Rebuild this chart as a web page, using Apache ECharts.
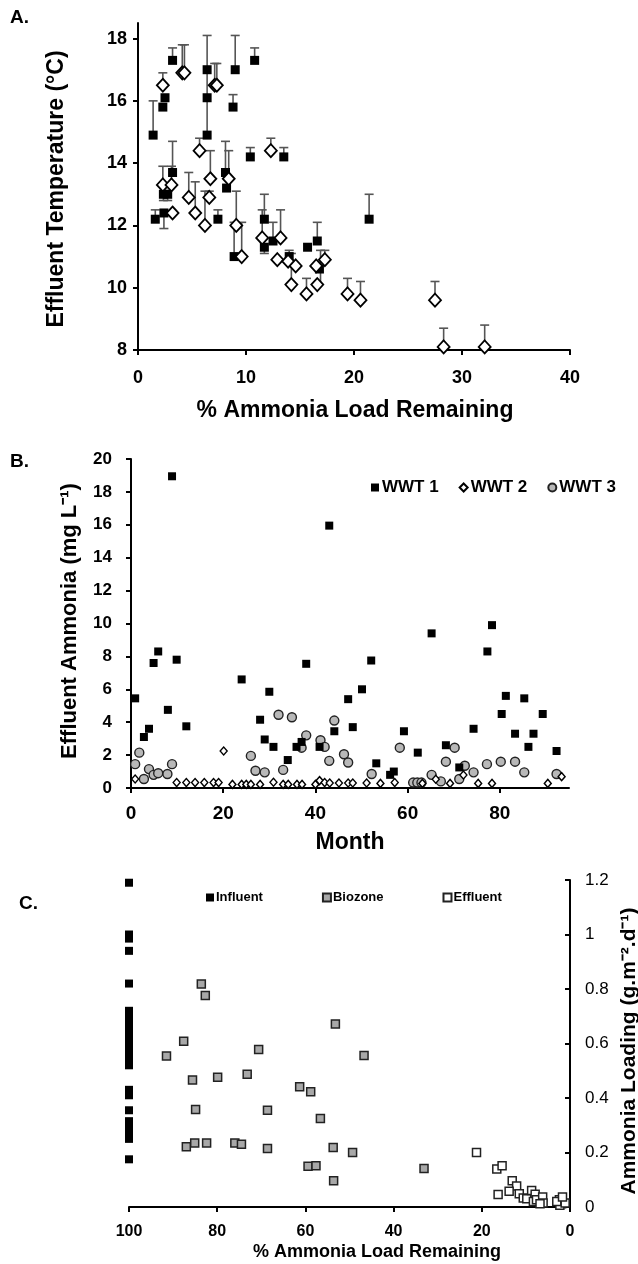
<!DOCTYPE html>
<html><head><meta charset="utf-8">
<script src="https://cdn.jsdelivr.net/npm/echarts@6/dist/echarts.min.js"></script>
<style>html,body{margin:0;padding:0;background:#fff}#c{width:638px;height:1264px}</style>
</head><body><div id="c"></div>
<script>
// ---------- Panel A: effluent temperature vs % ammonia load remaining ----------
const tempFilled = [[1.4,14.9],[1.6,12.2],[2.3,15.8],[2.5,16.1],[3.2,17.3],[2.4,12.4],[2.35,13.0],[2.75,13.0],[3.2,13.7],
  [6.4,17.0],[6.4,16.1],[6.4,14.9],[9.0,17.0],[8.8,15.8],[10.8,17.3],[10.4,14.2],[13.5,14.2],[8.1,13.7],
  [8.2,13.2],[7.4,12.2],[8.9,11.0],[11.7,12.2],[11.7,11.3],[12.5,11.5],[14.0,11.0],[15.7,11.3],
  [16.6,11.5],[16.8,10.6],[21.4,12.2]];
// [x, y, low, high]
const tempFilledErr = [[1.4,14.9,14.9,16.0],[1.6,12.2,12.2,12.5],[3.2,17.3,17.3,17.7],[2.4,12.4,11.9,12.4],
  [2.35,13.0,12.8,13.0],[2.75,13.0,12.8,13.0],[3.2,13.7,13.7,14.7],[6.4,14.9,14.9,18.1],[9.0,17.0,17.0,18.1],
  [8.8,15.8,15.8,16.2],[10.8,17.3,17.3,17.7],[10.4,14.2,14.2,14.5],[13.5,14.2,14.2,14.5],[8.1,13.7,13.7,14.7],
  [7.4,12.2,12.2,12.5],[8.9,11.0,11.0,12.1],[11.7,12.2,12.2,13.0],[11.7,11.3,11.1,11.3],[12.5,11.5,11.5,12.1],
  [14.0,11.0,11.0,11.2],[16.6,11.5,11.5,12.1],[21.4,12.2,12.2,13.0]];
const tempOpen = [[2.3,16.5],[4.1,16.9],[4.3,16.9],[7.1,16.5],[7.3,16.5],[5.7,14.4],[12.3,14.4],[6.7,13.5],[8.4,13.5],
  [2.3,13.3],[3.1,13.3],[4.7,12.9],[6.6,12.9],[3.2,12.4],[5.3,12.4],[6.2,12.0],[9.1,12.0],[9.6,11.0],
  [11.5,11.6],[13.2,11.6],[12.9,10.9],[13.9,10.85],[14.6,10.7],[14.2,10.1],[15.6,9.8],[16.5,10.7],[16.6,10.1],
  [17.3,10.9],[19.4,9.8],[20.6,9.6],[27.5,9.6],[28.3,8.1],[32.1,8.1]];
const tempOpenErr = [[2.3,16.5,16.5,16.9],[4.1,16.9,16.9,17.8],[4.3,16.9,16.9,17.8],[7.1,16.5,16.5,17.2],[7.3,16.5,16.5,17.2],
  [5.7,14.4,14.4,14.8],[12.3,14.4,14.4,14.8],[6.7,13.5,13.5,14.4],[8.4,13.5,13.5,14.4],[2.3,13.3,13.3,13.9],[3.1,13.3,13.3,13.9],
  [4.7,12.9,12.9,13.7],[5.3,12.4,12.4,13.4],[6.2,12.0,12.0,13.1],[6.6,12.9,12.9,13.1],[9.1,12.0,12.0,13.1],[9.6,11.0,11.0,12.1],
  [11.5,11.6,11.6,12.5],[13.2,11.6,11.6,12.5],[14.2,10.1,10.1,11.1],[15.6,9.8,9.8,10.3],[16.9,10.1,10.1,11.2],[17.3,10.9,10.9,11.2],
  [19.4,9.8,9.8,10.3],[20.6,9.6,9.6,10.2],[27.5,9.6,9.6,10.2],[28.3,8.1,8.1,8.7],[32.1,8.1,8.1,8.8]];
const aXTicks = {min:0, max:40, interval:10};
const aYTicks = {min:8, max:18.5, interval:2};

// ---------- Panel B: effluent ammonia by month ----------
const wwt1 = [[0.9,5.45],[2.8,3.1],[3.9,3.6],[4.9,7.6],[5.9,8.3],[8.0,4.75],[8.9,18.95],[9.9,7.8],[12.0,3.75],[24.0,6.6],
  [28.0,4.15],[29.0,2.95],[30.0,5.85],[30.9,2.5],[34.0,1.7],[35.9,2.5],[37.0,2.8],[38.0,7.55],[40.9,2.5],[43.0,15.95],
  [44.1,3.45],[47.1,5.4],[48.1,3.7],[50.1,6.0],[52.1,7.75],[53.2,1.5],[56.2,0.8],[57.0,1.0],[59.2,3.45],[62.2,2.15],
  [65.2,9.4],[68.3,2.6],[71.2,1.25],[74.3,3.6],[77.3,8.3],[78.3,9.9],[80.4,4.5],[81.3,5.6],[83.3,3.3],[85.3,5.45],
  [86.2,2.5],[87.3,3.3],[89.3,4.5],[92.3,2.25],[95.3,3.55]];
const wwt2 = [[0.9,0.55],[9.9,0.33],[12.0,0.33],[13.9,0.33],[15.9,0.33],[17.9,0.33],[19.0,0.33],[20.1,2.25],[22.0,0.22],
  [24.0,0.22],[25.0,0.22],[26.0,0.22],[28.0,0.22],[30.9,0.35],[33.0,0.22],[34.1,0.22],[36.0,0.22],[37.1,0.22],[40.0,0.22],
  [40.9,0.45],[42.0,0.33],[43.1,0.3],[45.1,0.3],[47.1,0.3],[48.1,0.3],[51.1,0.3],[54.1,0.28],[57.2,0.33],[63.2,0.28],
  [66.1,0.53],[69.2,0.28],[72.1,0.79],[75.3,0.28],[78.3,0.28],[90.4,0.28],[93.4,0.69]];
const wwt3 = [[0.9,1.45],[1.8,2.15],[2.8,0.55],[3.9,1.15],[4.9,0.8],[5.9,0.9],[7.9,0.85],[8.9,1.45],[26.0,1.95],[27.0,1.05],
  [29.0,0.95],[32.0,4.45],[33.0,1.1],[34.9,4.3],[37.0,2.45],[38.0,3.2],[41.1,2.9],[42.0,2.5],[43.0,1.65],[44.1,4.1],
  [46.2,2.05],[47.1,1.55],[52.2,0.85],[58.3,2.45],[61.2,0.33],[62.1,0.33],[63.0,0.33],[65.2,0.8],[67.2,0.4],[68.3,1.6],
  [70.2,2.45],[71.2,0.55],[72.4,1.35],[74.3,0.95],[77.2,1.45],[80.2,1.6],[83.3,1.6],[85.3,0.95],[92.3,0.85],[95.3,2.6]];
const bXTicks = {min:0, max:95, interval:20};
const bYTicks = {min:0, max:20, interval:2};

// ---------- Panel C: ammonia loading vs % load remaining ----------
const influentLoad = [1.19,1.0,0.985,0.94,0.82,0.72,0.70,0.68,0.665,0.65,0.63,0.61,0.59,0.57,0.55,0.535,0.52,
  0.43,0.41,0.355,0.315,0.29,0.27,0.25,0.175];
const biozone = [[83.6,0.818],[82.7,0.776],[87.6,0.608],[91.5,0.554],[70.6,0.578],[53.2,0.672],[46.7,0.556],[85.6,0.466],
  [79.9,0.476],[73.2,0.487],[61.3,0.441],[58.8,0.423],[84.9,0.358],[68.6,0.355],[56.6,0.325],[87.0,0.221],[85.1,0.235],
  [82.4,0.235],[76.0,0.235],[74.5,0.23],[68.6,0.215],[53.7,0.218],[49.3,0.2],[59.4,0.15],[57.6,0.151],[53.6,0.096],[33.1,0.141]];
const effluent = [[21.2,0.2],[16.6,0.139],[15.4,0.151],[13.1,0.096],[12.1,0.077],[16.3,0.046],[13.8,0.058],[11.5,0.049],
  [10.6,0.033],[9.8,0.03],[8.7,0.061],[7.9,0.047],[8.3,0.02],[7.6,0.027],[6.2,0.037],[6.1,0.015],[6.8,0.012],[2.4,0.027],
  [1.9,0.012],[2.3,0.006],[1.1,0.015],[3.0,0.02],[1.7,0.037]];
const cXTicks = {min:0, max:100, interval:20};
const cYTicks = {min:0, max:1.2, interval:0.2};

const FONT = "'Liberation Sans', Arial, sans-serif";
const chart = echarts.init(document.getElementById('c'), null, {renderer:'canvas'});

function errRender(params, api){
  const x = api.value(0), y = api.value(1), lo = api.value(2), hi = api.value(3);
  const a = api.coord([x, lo]), b = api.coord([x, hi]);
  const st = {stroke:'#555', lineWidth:1.6, fill:null};
  const ch = [{type:'line', shape:{x1:a[0],y1:a[1],x2:b[0],y2:b[1]}, style:st}];
  const hw = 4.5;
  if (hi > y) ch.push({type:'line', shape:{x1:b[0]-hw,y1:b[1],x2:b[0]+hw,y2:b[1]}, style:st});
  if (lo < y) ch.push({type:'line', shape:{x1:a[0]-hw,y1:a[1],x2:a[0]+hw,y2:a[1]}, style:st});
  return {type:'group', children:ch};
}

const axLine = {show:true, onZero:false, lineStyle:{color:'#000', width:2}};
const tick = {show:true, length:5, lineStyle:{color:'#000', width:2}};
function lbl(size, margin, weight){ return {color:'#000', fontFamily:FONT, fontWeight:weight||'bold', fontSize:size, margin:margin}; }

const option = {
  animation:false,
  backgroundColor:'#fff',
  grid:[
    {left:138, top:23, width:432, height:327},
    {left:131, top:459, width:438, height:329},
    {left:129, top:880, width:441, height:327}
  ],
  xAxis:[
    {gridIndex:0, type:'value', min:aXTicks.min, max:aXTicks.max, interval:aXTicks.interval, axisLine:axLine, axisTick:tick,
      axisLabel:lbl(18,19), splitLine:{show:false}},
    {gridIndex:1, type:'value', min:bXTicks.min, max:bXTicks.max, interval:bXTicks.interval, axisLine:axLine, axisTick:tick,
      axisLabel:Object.assign(lbl(19,16),{showMaxLabel:false}), splitLine:{show:false}},
    {gridIndex:2, type:'value', inverse:true, min:cXTicks.min, max:cXTicks.max, interval:cXTicks.interval, axisLine:axLine, axisTick:tick,
      axisLabel:lbl(16,17), splitLine:{show:false}}
  ],
  yAxis:[
    {gridIndex:0, type:'value', min:aYTicks.min, max:aYTicks.max, interval:aYTicks.interval, axisLine:axLine, axisTick:tick,
      axisLabel:Object.assign(lbl(18,11),{showMaxLabel:false}), splitLine:{show:false}},
    {gridIndex:1, type:'value', min:bYTicks.min, max:bYTicks.max, interval:bYTicks.interval, axisLine:axLine, axisTick:tick,
      axisLabel:lbl(17,19), splitLine:{show:false}},
    {gridIndex:2, type:'value', position:'right', min:cYTicks.min, max:cYTicks.max, interval:cYTicks.interval, axisLine:axLine,
      axisTick:Object.assign({}, tick, {inside:true}), axisLabel:lbl(17,15,'normal'), splitLine:{show:false}}
  ],
  legend:[
    {left:366, top:474, itemWidth:8, itemHeight:8, itemGap:20, selectedMode:false,
      textStyle:{fontFamily:FONT, fontWeight:'bold', fontSize:17, color:'#000', padding:[0,0,0,-2]},
      data:['WWT 1','WWT 2','WWT 3']},
    {left:201, top:886, itemWidth:8, itemHeight:8, itemGap:59, selectedMode:false,
      textStyle:{fontFamily:FONT, fontWeight:'bold', fontSize:13, color:'#000', padding:[0,0,0,-3]},
      data:['Influent','Biozone','Effluent']}
  ],
  series:[
    {type:'custom', xAxisIndex:0, yAxisIndex:0, renderItem:errRender, data:tempFilledErr, z:1, silent:true},
    {type:'custom', xAxisIndex:0, yAxisIndex:0, renderItem:errRender, data:tempOpenErr, z:1, silent:true},
    {name:'A filled', type:'scatter', xAxisIndex:0, yAxisIndex:0, symbol:'rect', symbolSize:9, z:3,
      itemStyle:{color:'#000', opacity:1}, data:tempFilled},
    {name:'A open', type:'scatter', xAxisIndex:0, yAxisIndex:0, symbol:'diamond', symbolSize:[12,13], z:4,
      itemStyle:{color:'#fff', borderColor:'#000', borderWidth:1.8, opacity:1}, data:tempOpen},

    {name:'WWT 1', type:'scatter', xAxisIndex:1, yAxisIndex:1, symbol:'rect', symbolSize:8, z:3,
      itemStyle:{color:'#000', opacity:1}, data:wwt1},
    {name:'WWT 2', type:'scatter', xAxisIndex:1, yAxisIndex:1, symbol:'diamond', symbolSize:[7,8], z:4,
      itemStyle:{color:'#fff', borderColor:'#000', borderWidth:1.4, opacity:1}, data:wwt2},
    {name:'WWT 3', type:'scatter', xAxisIndex:1, yAxisIndex:1, symbol:'circle', symbolSize:9, z:2,
      itemStyle:{color:'#b8b8b8', borderColor:'#222', borderWidth:1.4, opacity:1}, data:wwt3},

    {name:'Influent', type:'scatter', xAxisIndex:2, yAxisIndex:2, symbol:'rect', symbolSize:8, z:3,
      itemStyle:{color:'#000', opacity:1}, data:influentLoad.map(v => [100, v])},
    {name:'Biozone', type:'scatter', xAxisIndex:2, yAxisIndex:2, symbol:'rect', symbolSize:8, z:3,
      itemStyle:{color:'#a8a8a8', borderColor:'#222', borderWidth:1.5, opacity:1}, data:biozone},
    {name:'Effluent', type:'scatter', xAxisIndex:2, yAxisIndex:2, symbol:'rect', symbolSize:8, z:3,
      itemStyle:{color:'#fff', borderColor:'#222', borderWidth:1.5, opacity:1}, data:effluent}
  ],
  graphic:[
    {type:'text', left:10, top:8, style:{text:'A.', font:'bold 19px '+FONT, fill:'#000'}},
    {type:'text', left:10, top:452, style:{text:'B.', font:'bold 19px '+FONT, fill:'#000'}},
    {type:'text', left:19, top:894, style:{text:'C.', font:'bold 19px '+FONT, fill:'#000'}},
    {type:'text', x:57, y:189, rotation:Math.PI/2, style:{text:'Effluent Temperature (°C)', font:'bold 23px '+FONT, fill:'#000', textAlign:'center', textVerticalAlign:'middle'}},
    {type:'text', x:355, y:411, style:{text:'% Ammonia Load Remaining', font:'bold 23px '+FONT, fill:'#000', textAlign:'center', textVerticalAlign:'middle'}},
    {type:'text', x:70, y:621, rotation:Math.PI/2, style:{text:'Effluent Ammonia (mg L\u207B\u00B9)', font:'bold 22px '+FONT, fill:'#000', textAlign:'center', textVerticalAlign:'middle'}},
    {type:'text', x:350, y:843, style:{text:'Month', font:'bold 23px '+FONT, fill:'#000', textAlign:'center', textVerticalAlign:'middle'}},
    {type:'text', x:377, y:1252, style:{text:'% Ammonia Load Remaining', font:'bold 18px '+FONT, fill:'#000', textAlign:'center', textVerticalAlign:'middle'}},
    {type:'text', x:629, y:1051, rotation:Math.PI/2, style:{text:'Ammonia Loading (g.m\u207B\u00B2.d\u207B\u00B9)', font:'bold 21px '+FONT, fill:'#000', textAlign:'center', textVerticalAlign:'middle'}}
  ]
};
chart.setOption(option);
</script></body></html>
